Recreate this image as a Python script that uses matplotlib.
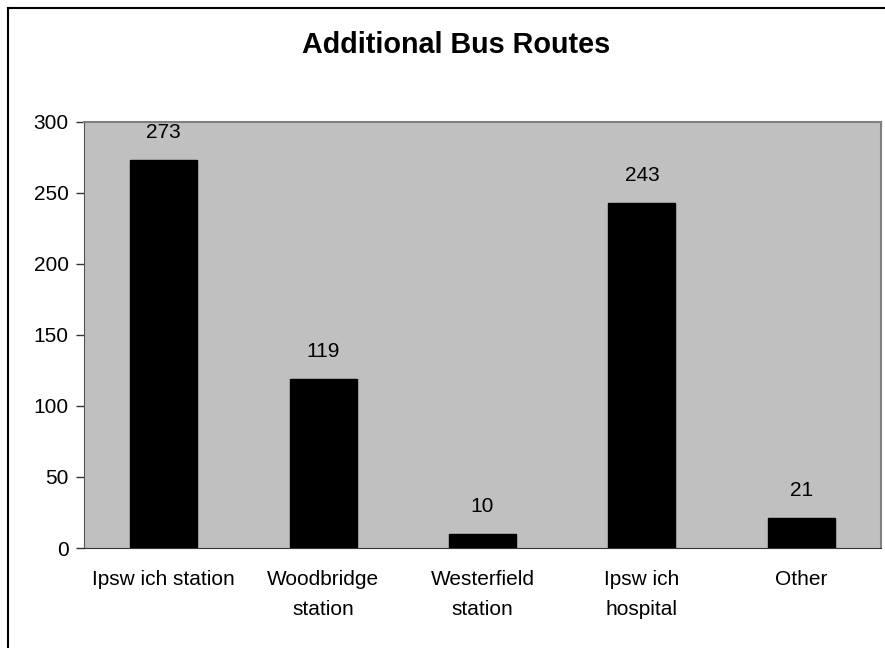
import matplotlib
matplotlib.use("Agg")
import matplotlib.pyplot as plt
from matplotlib.lines import Line2D

categories = ["Ipsw ich station", "Woodbridge\nstation", "Westerfield\nstation", "Ipsw ich\nhospital", "Other"]
values = [273, 119, 10, 243, 21]
yticks = [0, 50, 100, 150, 200, 250, 300]

plt.rcParams['font.family'] = ['Liberation Sans', 'DejaVu Sans']

W, H = 885, 648
fig = plt.figure(figsize=(W/100, H/100), dpi=100)
ax = fig.add_axes([84/W, 1 - 548/H, (881-84)/W, (548-122)/H])
ax.set_facecolor('#C0C0C0')
x = list(range(len(categories)))
ax.bar(x, values, width=0.42, color='black', edgecolor='black')
ax.set_xlim(-0.5, len(categories) - 0.5)
ax.set_ylim(0, 300)
ax.set_yticks(yticks)
ax.set_yticklabels([str(t) for t in yticks], fontsize=15)
ax.tick_params(axis='y', length=6, width=1, color='#333333', pad=5)
ax.set_xticks(x)
ax.set_xticklabels(categories, fontsize=15, linespacing=1.75)
ax.tick_params(axis='x', length=0, pad=16)
for sp in ['top', 'right']:
    ax.spines[sp].set_color('#808080')
    ax.spines[sp].set_linewidth(1.5)
ax.spines['left'].set_color('#555555')
ax.spines['bottom'].set_color('#333333')
for xi, v in zip(x, values):
    ax.annotate(str(v), (xi, v), xytext=(0, 13), textcoords='offset points',
                ha='center', va='bottom', fontsize=15)

fig.text(456/W, 1 - 45/H, "Additional Bus Routes", ha='center', va='center',
         fontsize=20.7, fontweight='bold')
fig.add_artist(Line2D([8/W, 8/W], [0, 1 - 8/H], transform=fig.transFigure, color='black', lw=1.5))
fig.add_artist(Line2D([8/W, 1], [1 - 8/H, 1 - 8/H], transform=fig.transFigure, color='black', lw=1.5))
fig.savefig("out.png", dpi=100)
